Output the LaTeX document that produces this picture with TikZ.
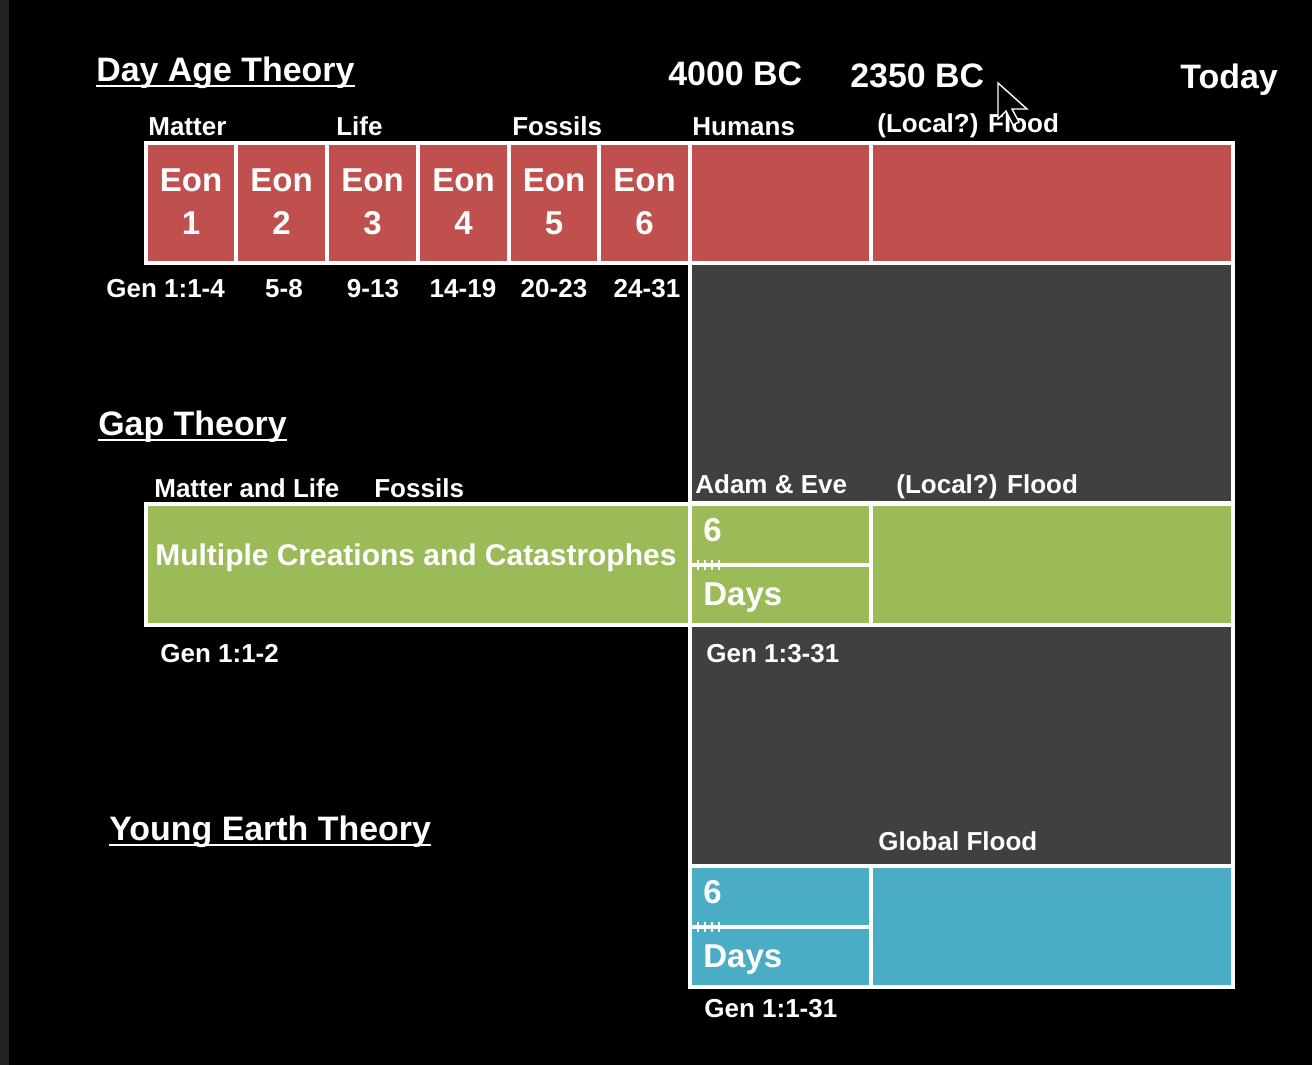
\documentclass[tikz,border=0pt]{standalone}
\usepackage{fontspec}
\setmainfont{Liberation Sans}
\definecolor{eonred}{HTML}{C0504D}
\definecolor{gapgreen}{HTML}{9BBB59}
\definecolor{yecblue}{HTML}{4BACC6}
\definecolor{bargray}{HTML}{404040}
\definecolor{stripgray}{HTML}{222222}
\tikzset{
  box/.style={draw=white, line width=2.3pt},
  title/.style={anchor=base west, inner sep=0pt, text=white,
    font=\bfseries\fontsize{19.3}{21}\selectfont},
  lbl/.style={anchor=base west, inner sep=0pt, text=white,
    font=\bfseries\fontsize{14.8}{16}\selectfont},
  big/.style={inner sep=0pt, text=white, align=center,
    font=\bfseries\fontsize{18.8}{24.5}\selectfont},
  bigl/.style={big, anchor=base west},
  uline/.style={white, line width=1.6pt},
  tickline/.style={white, line width=1.1pt},
}
\begin{document}
\begin{tikzpicture}[x=0.2mm, y=-0.2mm]
	% Hintergrund
	\useasboundingbox (0,0) rectangle (1312,1065);
	\fill[black] (0,0) rectangle (1312,1065);
	\fill[stripgray] (0,0) rectangle (9,1065);
	% Zeitleiste
	\node[title] (t4000) at (668,85) {4000 BC};
	\node[title] (t2350) at (850,87) {2350 BC};
	\node[title] (today) at (1180,88) {Today};
	% graue Flaechen
	\draw[box, fill=bargray] (690,263) rectangle (1233,503);
	\draw[box, fill=bargray] (690,625) rectangle (1233,866);
	% Day Age Theory
	\node[title] (dat) at (96,81) {Day Age Theory};
	\draw[uline] ([yshift=-1mm]dat.base west) -- ([yshift=-1mm]dat.base east);
	\node[lbl] (matter) at (148,135) {Matter};
	\node[lbl] (life) at (336,135) {Life};
	\node[lbl] (fossils) at (512,135) {Fossils};
	\node[lbl] (humans) at (692,135) {Humans};
	\node[lbl] (lflood) at (877,132) {(Local?) Flood};
	\foreach \a/\b/\n in {146/236/1, 236/327/2, 327/418/3, 418/509/4, 509/599/5, 599/690/6} {
		\draw[box, fill=eonred] (\a,143) rectangle (\b,263);
		\node[big] (eon\n) at ({(\a+\b)/2},202) {Eon\\\n};
	}
	\draw[box, fill=eonred] (690,143) rectangle (871,263);
	\draw[box, fill=eonred] (871,143) rectangle (1233,263);
	\node[lbl] (gen1) at (106,297) {Gen 1:1-4};
	\foreach \x/\g/\n in {284/5-8/2, 373/9-13/3, 463/14-19/4, 554/20-23/5, 647/24-31/6}
		\node[lbl, anchor=base] (gen\n) at (\x,297) {\g};
	% Gap Theory
	\node[title] (gap) at (98,435) {Gap Theory};
	\draw[uline] ([yshift=-1mm]gap.base west) -- ([yshift=-1mm]gap.base east);
	\node[lbl] (mlife) at (154,497) {Matter and Life};
	\node[lbl] (gfossils) at (374,497) {Fossils};
	\node[lbl] (adam) at (695,493) {Adam \& Eve};
	\node[lbl] (gflood) at (896,493) {(Local?) Flood};
	\draw[box, fill=gapgreen] (146,504) rectangle (690,625);
	\draw[box, fill=gapgreen] (690,504) rectangle (871,565);
	\draw[box, fill=gapgreen] (690,565) rectangle (871,625);
	\draw[box, fill=gapgreen] (871,504) rectangle (1233,625);
	\node[anchor=base west, inner sep=0pt, text=white,
		font=\bfseries\fontsize{17.05}{18}\selectfont] (multi) at (155,565)
		{Multiple Creations and Catastrophes};
	\node[bigl] (gsix) at (703,541) {6};
	\node[bigl] (gdays) at (703,605) {Days};
	\node[lbl] (gen12) at (160,662) {Gen 1:1-2};
	\node[lbl] (gen331) at (706,662) {Gen 1:3-31};
	% Young Earth Theory
	\node[title] (yet) at (109,840) {Young Earth Theory};
	\draw[uline] ([yshift=-1mm]yet.base west) -- ([yshift=-1mm]yet.base east);
	\node[lbl] (global) at (878,850) {Global Flood};
	\draw[box, fill=yecblue] (690,866) rectangle (871,927);
	\draw[box, fill=yecblue] (690,927) rectangle (871,987);
	\draw[box, fill=yecblue] (871,866) rectangle (1233,987);
	\node[bigl] (ysix) at (703,903) {6};
	\node[bigl] (ydays) at (703,967) {Days};
	\node[lbl] (gen131) at (704,1017) {Gen 1:1-31};
	% Striche
	\foreach \y in {565,927} {
		\draw[tickline] (693,\y) -- (724,\y);
		\foreach \x in {698,705,712,719}
			\draw[tickline] (\x,\y-5) -- (\x,\y+5);
	}
	% Mauszeiger
	\draw[white, fill=black, line width=0.8pt, line join=miter]
		(998,83) -- (998,119) -- (1006,111) -- (1013,125) -- (1019,122)
		-- (1012,109) -- (1027,109) -- cycle;
\end{tikzpicture}
\end{document}
